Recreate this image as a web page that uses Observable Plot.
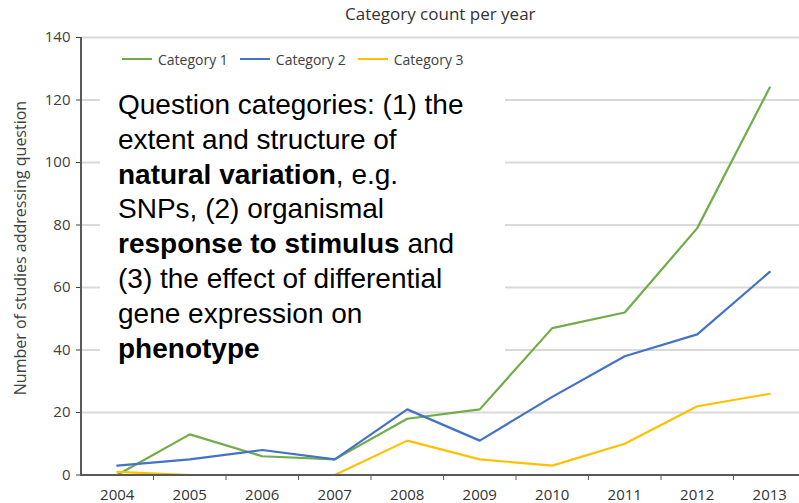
<!DOCTYPE html>
<html>
<head>
<meta charset="utf-8">
<script src="https://cdn.jsdelivr.net/npm/d3@7"></script>
<script src="https://cdn.jsdelivr.net/npm/@observablehq/plot@0.6"></script>
<style>
  body { margin: 0; background: #fff; }
  #wrap { position: relative; width: 799px; height: 503px; overflow: hidden; font-family: "Open Sans", sans-serif; }
  #chart { position: absolute; left: 0; top: 0; }
  #title { position: absolute; left: 345px; top: 2px; font-size: 17px; color: #333; white-space: nowrap; }
  #legend { position: absolute; left: 122px; top: 49px; height: 20px; display: flex; align-items: center; font-size: 14px; color: #404040; white-space: nowrap; }
  #legend .item { display: flex; align-items: center; margin-right: 12px; }
  #legend .sw { width: 30px; height: 2.5px; margin-right: 6px; }
  #ylabel { position: absolute; left: 20px; top: 248px; transform: translate(-50%, -50%) rotate(-90deg); font-size: 16px; color: #404040; white-space: nowrap; }
  #note { position: absolute; left: 100px; top: 78px; width: 405px; height: 290px; background: #fff; box-sizing: border-box; padding: 10px 0 0 18px; font-family: "Liberation Sans", Arial, sans-serif; font-size: 28px; line-height: 34.8px; color: #000; white-space: nowrap; }
</style>
</head>
<body>
<div id="wrap">
  <div id="chart"></div>
  <div id="title"></div>
  <div id="legend"></div>
  <div id="ylabel"></div>
  <div id="note">Question categories: (1) the<br>extent and structure of<br><b>natural variation</b>, e.g.<br>SNPs, (2) organismal<br><b>response to stimulus</b> and<br>(3) the effect of differential<br>gene expression on<br><b>phenotype</b></div>
</div>
<script>
const years = [2004, 2005, 2006, 2007, 2008, 2009, 2010, 2011, 2012, 2013];
const category1 = [0, 13, 6, 5, 18, 21, 47, 52, 79, 124];
const category2 = [3, 5, 8, 5, 21, 11, 25, 38, 45, 65];
const category3 = [1, 0, 0, 0, 11, 5, 3, 10, 22, 26];
const seriesNames = ["Category 1", "Category 2", "Category 3"];
const seriesColors = ["#70AD47", "#4472C4", "#FFC000"];
const yTicks = [0, 20, 40, 60, 80, 100, 120, 140];
const titleText = "Category count per year";
const yLabelText = "Number of studies addressing question";

const seriesValues = [category1, category2, category3];
const data = seriesNames.flatMap((name, i) =>
  years.map((year, j) => ({ series: name, year, value: seriesValues[i][j] }))
);
const boundaries = years.slice(0, -1).map(y => y + 0.5);

document.getElementById("title").textContent = titleText;
document.getElementById("ylabel").textContent = yLabelText;
const legend = document.getElementById("legend");
seriesNames.forEach((name, i) => {
  const item = document.createElement("div");
  item.className = "item";
  const sw = document.createElement("div");
  sw.className = "sw";
  sw.style.background = seriesColors[i];
  const label = document.createElement("span");
  label.textContent = name;
  item.appendChild(sw);
  item.appendChild(label);
  legend.appendChild(item);
});

const chart = Plot.plot({
  width: 799,
  height: 503,
  marginLeft: 80,
  marginRight: 0,
  marginTop: 37,
  marginBottom: 28,
  style: { fontFamily: "Open Sans, sans-serif", background: "transparent" },
  x: { type: "linear", domain: [2003.5, 2013.5], range: [80.5, 805.5], axis: null },
  y: { domain: [0, 140], range: [474.5, 37], axis: null },
  color: { domain: seriesNames, range: seriesColors },
  marks: [
    Plot.gridY(yTicks.filter(d => d > 0), { stroke: "#d9d9d9", strokeOpacity: 1, strokeWidth: 2 }),
    Plot.axisY(yTicks, { tickSize: 4, tickPadding: 6, fontSize: 15, color: "#404040", label: null }),
    Plot.axisX(years, { tickSize: 0, tickPadding: 14, fontSize: 15, color: "#333", tickFormat: d => String(d), label: null }),
    Plot.axisX(boundaries, { tickSize: 5, tickFormat: () => "", stroke: "#595959", label: null }),
    Plot.line(data, { x: "year", y: "value", z: "series", stroke: "series", strokeWidth: 2.2 }),
    Plot.ruleY([0], { stroke: "#595959", strokeWidth: 2 }),
    Plot.ruleX([2003.5], { y1: 0, y2: 140, stroke: "#595959", strokeWidth: 2 })
  ]
});
document.getElementById("chart").appendChild(chart);
</script>
</body>
</html>
